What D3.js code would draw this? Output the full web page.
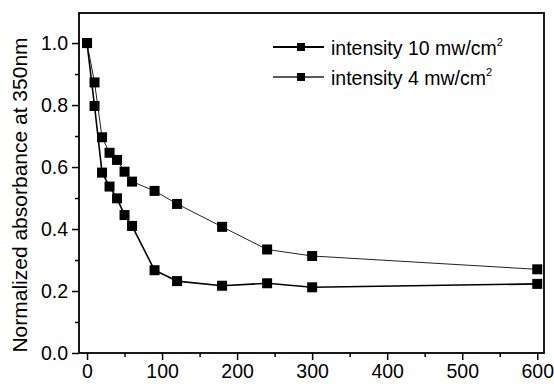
<!DOCTYPE html>
<html>
<head>
<meta charset="utf-8">
<script src="https://cdn.jsdelivr.net/npm/d3@7"></script>
<style>
  body { margin: 0; background: #fff; }
  svg { display: block; font-family: "Liberation Sans", Arial, sans-serif; }
  .axis text { font-size: 19.5px; fill: #000; }
  .axis path, .axis line { stroke: #000; }
</style>
</head>
<body>
<svg id="chart" width="554" height="384"></svg>
<script>
// irradiation time (x) and normalized absorbance for each intensity
const times = [0, 10, 20, 30, 40, 50, 60, 90, 120, 180, 240, 300, 600];
const intensity10 = [1.0, 0.797, 0.582, 0.537, 0.499, 0.445, 0.41, 0.267, 0.232, 0.217, 0.225, 0.212, 0.223];
const intensity4 = [1.0, 0.873, 0.696, 0.646, 0.623, 0.585, 0.553, 0.523, 0.481, 0.407, 0.334, 0.313, 0.27];
const seriesNames = ['intensity 10 mw/cm', 'intensity 4 mw/cm'];
const xTicks = [0, 100, 200, 300, 400, 500, 600];
const yTicks = [0.0, 0.2, 0.4, 0.6, 0.8, 1.0];
const yLabel = 'Normalized absorbance at 350nm';

const margin = { top: 13, right: 10, bottom: 31, left: 79 };
const width = 554 - margin.left - margin.right;
const height = 384 - margin.top - margin.bottom;

const svg = d3.select('#chart');
const g = svg.append('g').attr('transform', `translate(${margin.left},${margin.top})`);

const x = d3.scaleLinear().domain([-10.7, 609]).range([0, width]);
const y = d3.scaleLinear().domain([0, 1.097]).range([height, 0]);

// minor ticks
g.append('g')
  .attr('class', 'axis')
  .attr('transform', `translate(0,${height})`)
  .call(d3.axisBottom(x).tickValues(d3.range(50, 601, 100)).tickSize(4).tickFormat(''))
  .call(s => s.select('.domain').remove());
g.append('g')
  .attr('class', 'axis')
  .call(d3.axisLeft(y).tickValues(d3.range(0.1, 1.05, 0.2)).tickSize(4).tickFormat(''))
  .call(s => s.select('.domain').remove());

// major axes
g.append('g')
  .attr('class', 'axis')
  .attr('transform', `translate(0,${height})`)
  .call(d3.axisBottom(x).tickValues(xTicks).tickSize(7).tickPadding(4).tickFormat(d3.format('d')))
  .call(s => s.select('.domain').remove());
g.append('g')
  .attr('class', 'axis')
  .call(d3.axisLeft(y).tickValues(yTicks).tickSize(7).tickPadding(4).tickFormat(d3.format('.1f')))
  .call(s => s.select('.domain').remove());

g.selectAll('.axis line').attr('stroke-width', 1.5);

// frame
g.append('rect')
  .attr('width', width)
  .attr('height', height)
  .attr('fill', 'none')
  .attr('stroke', '#000')
  .attr('stroke-width', 1.8);

svg.append('text')
  .attr('transform', `translate(27,${margin.top + height / 2 + 12}) rotate(-90)`)
  .attr('text-anchor', 'middle')
  .attr('font-size', 21)
  .text(yLabel);

const series = [
  { name: seriesNames[0], values: intensity10, stroke: '#000', sw: 1.6 },
  { name: seriesNames[1], values: intensity4, stroke: '#222', sw: 1 }
];

const line = d3.line()
  .x((d, i) => x(times[i]))
  .y(d => y(d));

series.forEach(s => {
  g.append('path')
    .datum(s.values)
    .attr('fill', 'none')
    .attr('stroke', s.stroke)
    .attr('stroke-width', s.sw)
    .attr('d', line);
  g.selectAll(null)
    .data(s.values)
    .enter()
    .append('rect')
    .attr('x', (d, i) => x(times[i]) - 5)
    .attr('y', d => y(d) - 5)
    .attr('width', 10)
    .attr('height', 10)
    .attr('fill', '#000');
});

// legend
const legend = svg.append('g');
series.forEach((s, i) => {
  const ly = 47 + i * 30;
  legend.append('line')
    .attr('x1', 273).attr('x2', 324)
    .attr('y1', ly).attr('y2', ly)
    .attr('stroke', s.stroke)
    .attr('stroke-width', s.sw + 0.4);
  legend.append('rect')
    .attr('x', 297).attr('y', ly - 4)
    .attr('width', 8).attr('height', 8)
    .attr('fill', '#000');
  const t = legend.append('text')
    .attr('x', 331)
    .attr('y', ly + 7.5)
    .attr('font-size', 19.5)
    .text(s.name);
  t.append('tspan')
    .attr('dy', -9)
    .attr('font-size', 11)
    .text('2');
});
</script>
</body>
</html>
